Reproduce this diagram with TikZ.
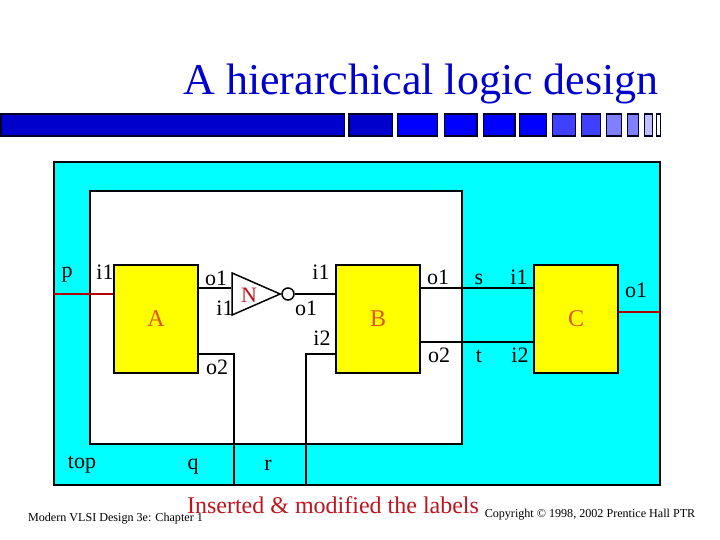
\documentclass[tikz,border=0pt]{standalone}
\usepackage{fontspec}
\setmainfont{Liberation Serif}
\usepackage{tikz}
\usetikzlibrary{positioning,shapes.geometric}
\definecolor{barblue}{RGB}{0,0,204}
\definecolor{cellcyan}{RGB}{0,255,255}
\definecolor{blockyellow}{RGB}{255,255,0}
\definecolor{labelred}{RGB}{190,20,30}
\definecolor{lettered}{RGB}{225,85,10}
\tikzset{
  wire/.style={line width=1.5pt,black},
  block/.style={draw=black,line width=1.5pt,fill=blockyellow,minimum width=84pt,minimum height=108pt,inner sep=0pt,text=lettered,font=\fontsize{24}{24}\selectfont},
  lbl/.style={inner sep=0pt,text=black,font=\fontsize{22}{22}\selectfont},
  bar/.style={draw=black!85!blue,line width=1.5pt},
  foot/.style={inner sep=0pt,text=black,font=\fontsize{12.1}{12.1}\selectfont},
}
\begin{document}
\begin{tikzpicture}[x=1pt,y=-1pt]
\useasboundingbox (0,0) rectangle (720,540);
\node[inner sep=0pt,text=barblue,font=\fontsize{44}{44}\selectfont] (title) at (421,84) {A hierarchical logic design};

% Draw bars
\draw[bar,fill=barblue] (1,114) rectangle (344.5,136);
\draw[bar,fill=barblue] (349,114) rectangle (392.5,136);
\foreach \a/\b in {397.5/437.5,444.5/477,483.5/515,519.5/546.5}
  \draw[bar,fill=blue] (\a,114) rectangle (\b,136);
\foreach \a/\b in {552.5/575.5,581.5/600.5}
  \draw[bar,fill=blue!75!white] (\a,114) rectangle (\b,136);
\foreach \a/\b in {606.5/621.5,627.5/638.5}
  \draw[bar,fill=blue!50!white] (\a,114) rectangle (\b,136);
\draw[bar,fill=blue!25!white] (644.5,114) rectangle (652.5,136);
\draw[bar,fill=white] (656.5,114) rectangle (660.5,136);

% Cell outline
\draw[line width=1.5pt,fill=cellcyan] (54,162) rectangle (660,485);
\draw[line width=1.5pt,fill=white] (90,191) rectangle (462,444);

% Blocks
\node[block] (blockA) at (156,319) {A};
\node[block] (blockB) at (378,319) {B};
\node[block] (blockC) at (576,319) {C};

% Inverter
\node[draw=black,line width=1.5pt,isosceles triangle,isosceles triangle apex angle=47,isosceles triangle stretches,minimum width=42pt,minimum height=48pt,inner sep=0pt,anchor=apex] (gateN) at (282,294) {};
\node[draw=black,line width=1.5pt,circle,fill=white,minimum size=12pt,inner sep=0pt] (bubble) at (288,294) {};
\node[inner sep=0pt,text=labelred,font=\fontsize{22}{22}\selectfont] (labelN) at (249,295) {N};

% Wires
\coordinate (portp) at (54,294);
\coordinate (portq) at (234,485);
\coordinate (portr) at (306,485);
\coordinate (ports) at (462,288);
\coordinate (portt) at (462,342);
\coordinate (portout) at (660,312);
\coordinate (topa) at (198,288);
\coordinate (lowa) at (198,354);
\coordinate (lowb) at (336,354);
\draw[wire,draw=red!70!black] (portp) -- (portp -| blockA.west);
\draw[wire] (topa) -- (topa -| gateN.left corner);
\draw[wire] (lowa) -| (portq);
\draw[wire] (bubble) -- (bubble -| blockB.west);
\draw[wire] (lowb) -| (portr);
\draw[wire] (ports -| blockB.east) -- (ports -| blockC.west);
\draw[wire] (portt -| blockB.east) -- (portt -| blockC.west);
\draw[wire,draw=red!70!black] (portout -| blockC.east) -- (portout);

% Labels
\foreach \x/\y/\t/\n in {67/275/p/lp,105/272/i1/la,216/278/o1/lb,225/308/i1/lc,321/272/i1/ld,
  306/308/o1/le,322/338/i2/lf,217/367/o2/lg,82/465/top/lh,193/467/q/li,268/465/r/lj,
  438/277/o1/lk,479/279/s/ll,519/277/i1/lm,439/355/o2/ln,479/356/t/lo,520/355/i2/lr,636/290/o1/lq}
  \node[lbl] (\n) at (\x,\y) {\t};

\node[inner sep=0pt,text=labelred,font=\fontsize{24}{24}\selectfont] (note) at (333,505) {Inserted \& modified the labels};
\node[foot] (footl) at (115.5,519) {Modern VLSI Design 3e: Chapter 1};
\node[foot] (footr) at (590,515) {Copyright © 1998, 2002 Prentice Hall PTR};
\end{tikzpicture}
\end{document}
